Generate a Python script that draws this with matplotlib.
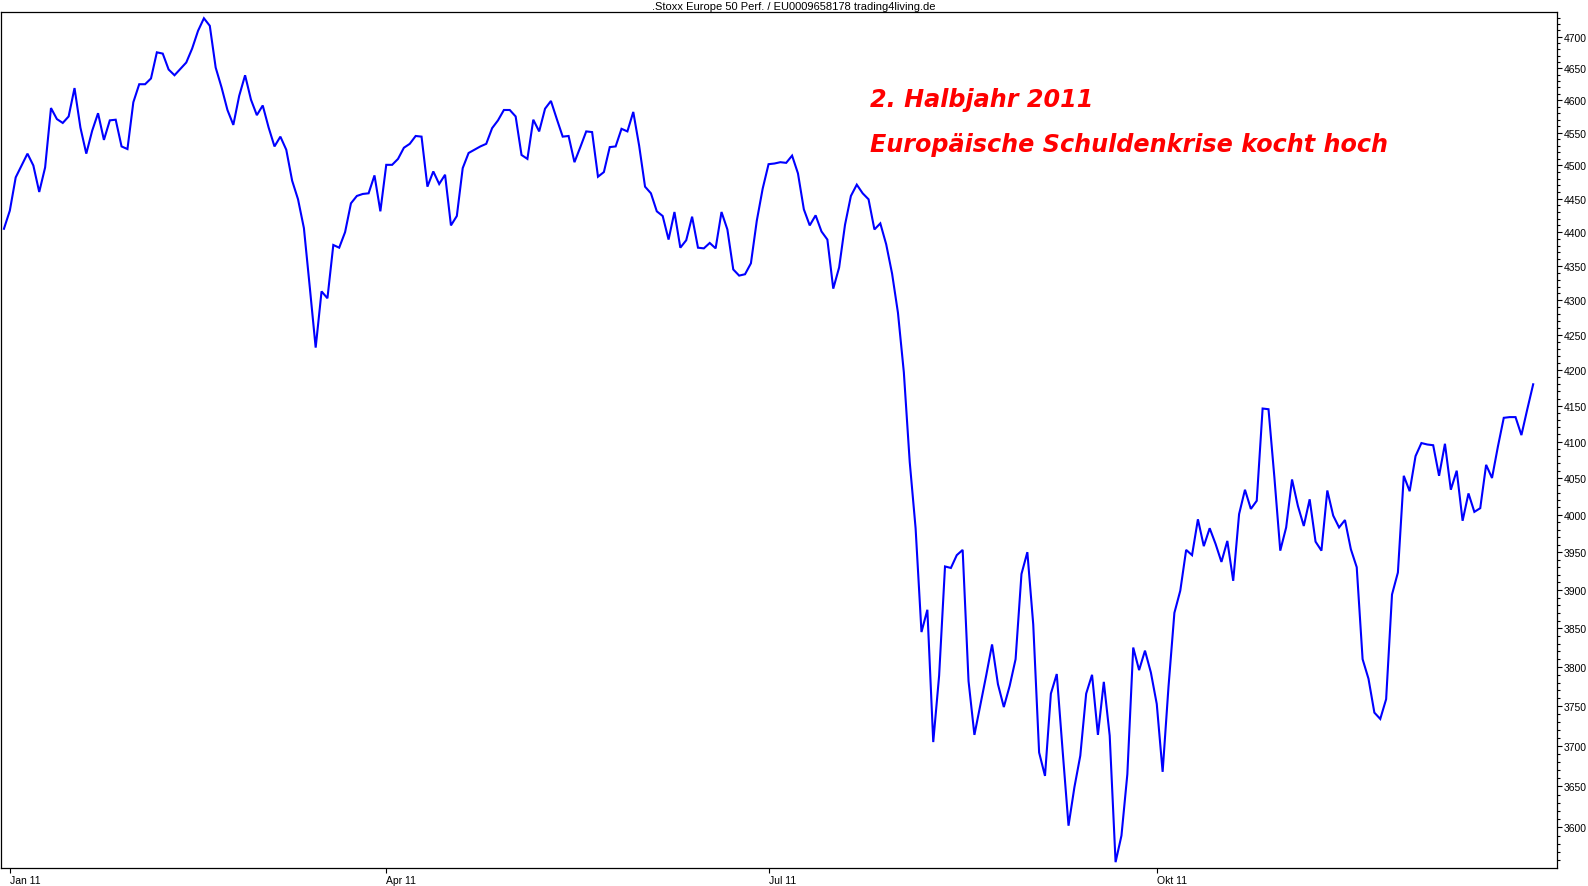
# -*- coding: utf-8 -*-
# Stoxx Europe 50 Perf. 2011 - daily close, log scale, right axis
import matplotlib
matplotlib.use('Agg')
import matplotlib.pyplot as plt
import matplotlib.ticker as mticker
import numpy as np
import pandas as pd

# trading days (weekdays) from 31.12.2010 to 30.12.2011
startDate = '2010-12-31'
closeValues = [
    4405, 4432, 4482, 4500, 4518, 4500, 4460, 4497, 4588, 4571,
    4565, 4575, 4619, 4558, 4518, 4553, 4580, 4539, 4569, 4570,
    4529, 4525, 4597, 4625, 4625, 4634, 4675, 4673, 4648, 4639,
    4649, 4659, 4681, 4709, 4729, 4717, 4651, 4620, 4585, 4562,
    4607, 4639, 4601, 4577, 4592, 4558, 4529, 4544, 4524, 4477,
    4449, 4406,
    4319, 4232, 4313, 4303, 4381, 4377, 4400, 4443, 4454, 4457,
    4458, 4485, 4431, 4501, 4501, 4510, 4527, 4533, 4545, 4544,
    4468, 4491, 4472, 4486, 4410, 4424, 4496, 4519, 4524, 4529,
    4533, 4557, 4569, 4585, 4585, 4575, 4516, 4510, 4570, 4552,
    4587, 4599, 4571, 4544, 4545, 4505, 4528, 4552, 4551, 4483,
    4490, 4528, 4529, 4556, 4552, 4582, 4530,
    4468, 4458, 4431, 4424, 4389, 4430, 4377, 4388, 4423, 4377,
    4376, 4384, 4376, 4430, 4404, 4345, 4336, 4338, 4354, 4417,
    4465, 4502, 4503, 4505, 4504, 4515, 4488, 4434, 4410, 4425,
    4401, 4389, 4317, 4348, 4411, 4454, 4471, 4458, 4449, 4404,
    4413, 4382, 4339, 4282, 4197, 4072, 3982, 3845, 3874, 3705,
    3789, 3931, 3929, 3946, 3953, 3782, 3714, 3751, 3789, 3829,
    3778, 3749, 3776, 3810, 3921, 3950, 3855, 3692, 3663, 3766,
    3791, 3694, 3602, 3649, 3688, 3766, 3790, 3714, 3781, 3713,
    3558, 3590, 3665, 3825, 3796, 3821, 3793, 3753, 3668, 3775,
    3870, 3899, 3953, 3946, 3994, 3958, 3982, 3961, 3937, 3965,
    3912, 4001,
    4034, 4008, 4019, 4146, 4145, 4051, 3952, 3983, 4048, 4012,
    3985, 4021, 3964, 3952, 4033, 3999, 3983, 3993, 3954, 3930,
    3810, 3785, 3742, 3734, 3759, 3894, 3923, 4053, 4032, 4080,
    4098, 4096, 4095, 4053, 4097, 4034, 4060, 3992, 4029, 4004,
    4009, 4068, 4050, 4093, 4133, 4134, 4134, 4109, 4145, 4180,
]
tickDates = ['2011-01-03', '2011-04-01', '2011-07-01', '2011-10-03']
tickLabels = ['Jan 11', 'Apr 11', 'Jul 11', 'Okt 11']
yMajor = list(range(3600, 4701, 50))
yMinor = list(range(3560, 4731, 10))
titleText = '.Stoxx Europe 50 Perf. / EU0009658178 trading4living.de'
noteLines = ['2. Halbjahr 2011', 'Europäische Schuldenkrise kocht hoch']

dates = pd.bdate_range(startDate, periods=len(closeValues))
xIdx = np.arange(len(dates))
tickPos = [dates.get_loc(pd.Timestamp(d)) for d in tickDates]

W, H = 1588, 887
fig = plt.figure(figsize=(W / 100, H / 100), dpi=100)
ax = fig.add_axes([1 / W, 1 - 869 / H, 1555.7 / W, 856 / H])

ax.plot(xIdx, closeValues, color='#0000ff', lw=1.5, solid_joinstyle='miter')

ax.set_yscale('log')
ax.set_ylim(3551, 4739)
ax.set_xlim(-0.5, 264.0)

ax.yaxis.tick_right()
ax.yaxis.set_major_locator(mticker.FixedLocator(yMajor))
ax.yaxis.set_minor_locator(mticker.FixedLocator([v for v in yMinor if v not in yMajor]))
ax.yaxis.set_major_formatter(mticker.FixedFormatter([str(v) for v in yMajor]))
ax.yaxis.set_minor_formatter(mticker.NullFormatter())

ax.set_xticks(tickPos)
ax.set_xticklabels(tickLabels, ha='left')
ax.xaxis.set_minor_locator(mticker.NullLocator())

ax.tick_params(axis='y', which='major', direction='out', length=3.5, width=0.8,
               pad=1.5, labelsize=7.5, labelfontfamily='Liberation Sans')
ax.tick_params(axis='y', which='minor', direction='out', length=1.8, width=0.8)
ax.tick_params(axis='x', which='major', direction='out', length=3.5, width=0.8,
               pad=1.5, labelsize=7.5, labelfontfamily='Liberation Sans')
for sp in ax.spines.values():
    sp.set_linewidth(0.9)
    sp.set_color('black')

fig.text(0.5, 1 - 6.5 / H, titleText, ha='center', va='center',
         fontsize=8.0, family='Liberation Sans')

noteY = [107, 152]
for line, yPix in zip(noteLines, noteY):
    fig.text(870 / W, 1 - yPix / H, line, ha='left', va='baseline',
             color='#ff0000', fontsize=17.2, fontweight='bold', fontstyle='italic',
             family='DejaVu Sans')

fig.savefig('out.png', dpi=100)
